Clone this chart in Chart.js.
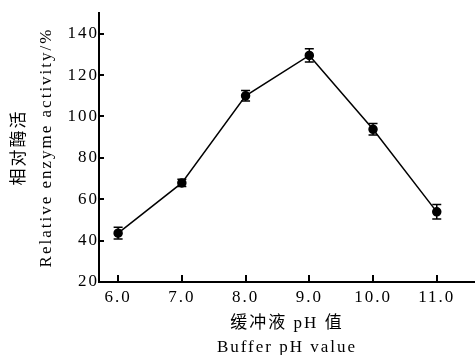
<!DOCTYPE html>
<html><head><meta charset="utf-8">
<script src="https://cdn.jsdelivr.net/npm/chart.js@4.4.0/dist/chart.umd.min.js"></script>
<style>html,body{margin:0;padding:0;background:#fff}canvas{display:block}</style>
</head><body>
<canvas id="c" width="475" height="355"></canvas>
<script>
const phValues = [6.0, 7.0, 8.0, 9.0, 10.0, 11.0];
const activity = [43.6, 67.9, 110.0, 129.5, 93.8, 53.9];
const errors = [2.8, 1.8, 2.5, 3.2, 2.8, 3.5];
const yTickValues = [20, 40, 60, 80, 100, 120, 140];
const xTitle = ['缓冲液 pH 值', 'Buffer pH value'];
const yTitle = ['相对酶活', 'Relative enzyme activity/%'];
const FONT = "'Liberation Serif', 'Times New Roman', 'Noto Sans CJK SC', serif";

const spacingPlugin = {
  id: 'spacing',
  beforeInit(chart) { chart.ctx.letterSpacing = '2px'; },
  beforeUpdate(chart) { chart.ctx.letterSpacing = '2px'; },
  beforeLayout(chart) { chart.ctx.letterSpacing = '2px'; },
  beforeDraw(chart) { chart.ctx.letterSpacing = '2px'; }
};

const innerTicks = {
  id: 'innerTicks',
  afterDraw(chart) {
    const ctx = chart.ctx, xs = chart.scales.x, ys = chart.scales.y;
    const area = chart.chartArea;
    ctx.save();
    ctx.strokeStyle = '#000';
    ctx.lineWidth = 2;
    ctx.beginPath();
    xs.ticks.forEach(t => {
      const px = Math.round(xs.getPixelForValue(t.value));
      ctx.moveTo(px, area.bottom);
      ctx.lineTo(px, area.bottom - 7);
    });
    ys.ticks.forEach(t => {
      const py = Math.round(ys.getPixelForValue(t.value));
      ctx.moveTo(area.left, py);
      ctx.lineTo(area.left + 5, py);
    });
    ctx.stroke();
    ctx.restore();
  }
};

const errorBars = {
  id: 'errorBars',
  afterDatasetsDraw(chart) {
    const ctx = chart.ctx, xs = chart.scales.x, ys = chart.scales.y;
    ctx.save();
    ctx.strokeStyle = '#000';
    ctx.lineWidth = 1.5;
    ctx.beginPath();
    phValues.forEach((x, i) => {
      const px = xs.getPixelForValue(x);
      const top = ys.getPixelForValue(activity[i] + errors[i]);
      const bot = ys.getPixelForValue(activity[i] - errors[i]);
      ctx.moveTo(px, top); ctx.lineTo(px, bot);
      ctx.moveTo(px - 4.5, top); ctx.lineTo(px + 4.5, top);
      ctx.moveTo(px - 4.5, bot); ctx.lineTo(px + 4.5, bot);
    });
    ctx.stroke();
    ctx.restore();
  }
};

new Chart(document.getElementById('c'), {
  type: 'line',
  data: {
    datasets: [{
      data: phValues.map((x, i) => ({ x: x, y: activity[i] })),
      borderColor: '#000',
      borderWidth: 1.5,
      pointBackgroundColor: '#000',
      pointBorderColor: '#000',
      pointRadius: 4,
      tension: 0,
      fill: false,
      clip: false
    }]
  },
  options: {
    responsive: false,
    animation: false,
    devicePixelRatio: 1,
    layout: { autoPadding: false, padding: { top: 13, right: 0, left: 0, bottom: 0 } },
    plugins: { legend: { display: false }, tooltip: { enabled: false } },
    scales: {
      x: {
        type: 'linear',
        min: 5.7,
        max: 11.6,
        afterBuildTicks(scale) { scale.ticks = phValues.map(v => ({ value: v })); },
        afterFit(scale) { scale.height = 73; },
        grid: { display: true, drawOnChartArea: false, drawTicks: false },
        border: { display: true, color: '#000', width: 2 },
        ticks: {
          color: '#000', padding: 5,
          font: { family: FONT, size: 17 },
          callback: v => Number(v).toFixed(1),
          autoSkip: false, maxRotation: 0
        },
        title: {
          display: true, text: xTitle, color: '#000',
          font: { family: FONT, size: 17, lineHeight: '24px' },
          padding: { top: 0, bottom: -5 }
        }
      },
      y: {
        type: 'linear',
        min: 20,
        max: 150,
        afterBuildTicks(scale) { scale.ticks = yTickValues.map(v => ({ value: v })); },
        afterFit(scale) { scale.width = 99; },
        grid: { display: true, drawOnChartArea: false, drawTicks: false },
        border: { display: true, color: '#000', width: 2 },
        ticks: {
          color: '#000', padding: 0,
          font: { family: FONT, size: 17 },
          callback: v => String(v)
        },
        title: {
          display: true, text: yTitle, color: '#000',
          font: { family: FONT, size: 17, lineHeight: '27px' },
          padding: { top: 6, bottom: 0 }
        }
      }
    }
  },
  plugins: [spacingPlugin, innerTicks, errorBars]
});
</script>
</body></html>
